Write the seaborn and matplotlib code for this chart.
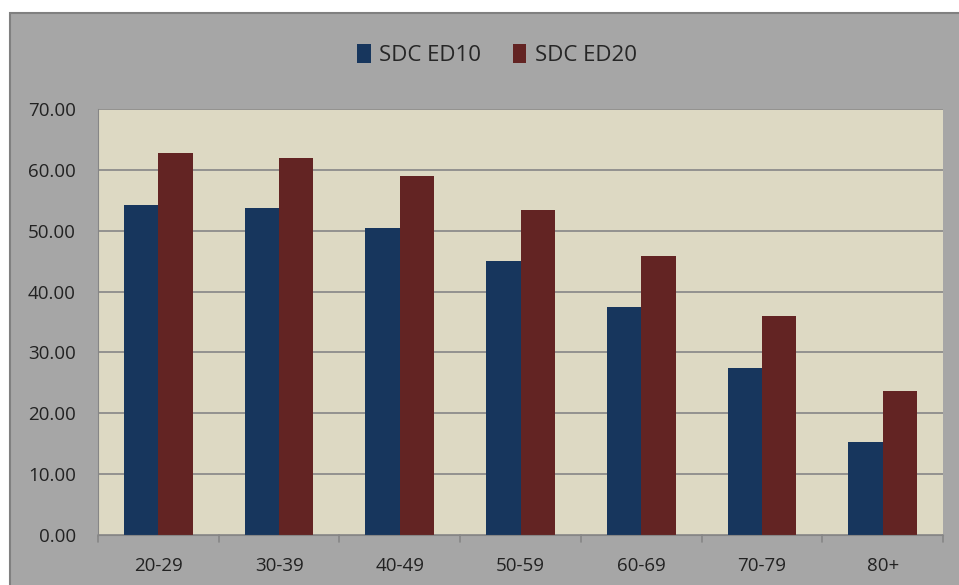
import pandas as pd
import matplotlib.pyplot as plt
import seaborn as sns
from matplotlib.patches import Rectangle

age_groups = ["20-29", "30-39", "40-49", "50-59", "60-69", "70-79", "80+"]
sdc_ed10 = [54.2, 53.7, 50.4, 45.0, 37.5, 27.4, 15.3]
sdc_ed20 = [62.8, 61.9, 59.0, 53.4, 45.8, 36.0, 23.7]
series_names = ["SDC ED10", "SDC ED20"]
y_ticks = [0, 10, 20, 30, 40, 50, 60, 70]

df = pd.DataFrame({
    "age": age_groups * 2,
    "value": sdc_ed10 + sdc_ed20,
    "series": [series_names[0]] * len(age_groups) + [series_names[1]] * len(age_groups),
})

sns.set_style("white")
plt.rcParams["font.family"] = ["Open Sans", "DejaVu Sans"]

W, H = 959, 585
fig = plt.figure(figsize=(W / 100, H / 100), dpi=100)
fig.patch.set_facecolor("white")
fig.patches.append(Rectangle((10 / W, -0.01), 1.01 - 10 / W, 1.01 - 13 / H, transform=fig.transFigure,
                             facecolor="#a6a6a6", edgecolor="#808080", linewidth=1.5, zorder=-5))

ax = fig.add_axes([98 / W, 1 - 535 / H, (943 - 98) / W, (535 - 109) / H])
ax.set_facecolor("#ddd9c3")

sns.barplot(data=df, x="age", y="value", hue="series", ax=ax,
            palette=["#17365d", "#632423"], width=0.57, saturation=1, legend=True,
            linewidth=0, edgecolor="none")

ax.set_ylim(0, 70)
ax.set_yticks(y_ticks)
ax.set_yticklabels([f"{t:.2f}" for t in y_ticks], fontsize=13.5, color="#222222")
ax.set_xticks(range(len(age_groups)))
ax.set_xticklabels(age_groups, fontsize=13.5, color="#222222")
ax.set_xlabel("")
ax.set_ylabel("")
ax.yaxis.grid(True, color="#868686", linewidth=1.2)
ax.set_axisbelow(True)
for s in ["top", "right"]:
    ax.spines[s].set_visible(False)
ax.spines["left"].set_color("#868686")
ax.spines["bottom"].set_color("#868686")
ax.tick_params(axis="y", length=7, color="#868686", pad=9)
ax.tick_params(axis="x", length=0, pad=16)
# category boundary ticks on x axis
for i in range(len(age_groups) + 1):
    ax.plot([i - 0.5, i - 0.5], [0, -1.2], color="#868686", lw=1.2, clip_on=False)
ax.set_xlim(-0.5, len(age_groups) - 0.5)

handles, labels = ax.get_legend_handles_labels()
for h in handles:
    h.set_edgecolor("none")
ax.legend_.remove()
fig.legend(handles, labels, loc="center", bbox_to_anchor=(497 / W, 1 - 55 / H), ncol=2,
           frameon=False, fontsize=16, handlelength=0.6, handleheight=0.9,
           handletextpad=0.4, columnspacing=1.4)

fig.savefig("out.png", dpi=100)
